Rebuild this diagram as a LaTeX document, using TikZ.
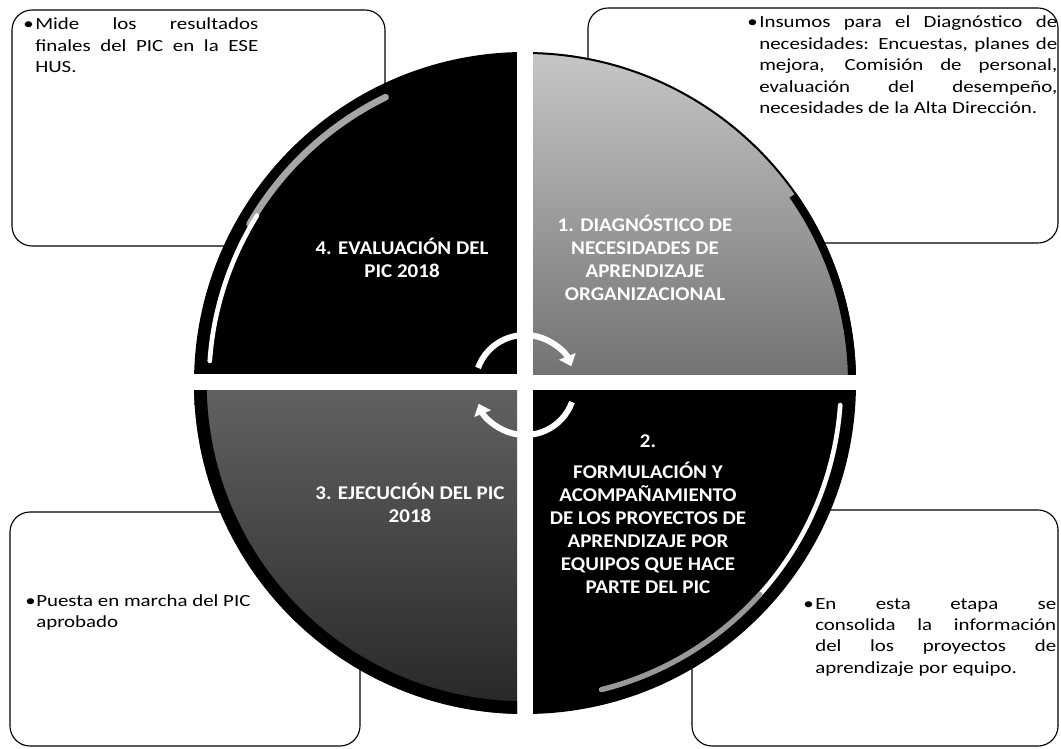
\documentclass[tikz,border=0pt]{standalone}
\usepackage{fontspec}
\setmainfont{Carlito}
\newfontfamily\bodyfont{Carlito}[FakeStretch=1.23]
\newfontfamily\lblfont{Carlito}[FakeStretch=1.08]
\usetikzlibrary{arrows.meta,calc}
\begin{document}
\begin{tikzpicture}[x=0.75pt,y=-0.75pt,
  boxstyle/.style={draw=black, line width=0.85pt, rounded corners=15pt, anchor=north west, inner sep=0pt, outer sep=0pt},
  bodytext/.style={anchor=base west, inner sep=0pt, align=justify, font={\bodyfont\fontsize{12.75pt}{16.1pt}\selectfont}},
  bulletmark/.style={anchor=base west, inner sep=0pt, font={\bodyfont\fontsize{12.75pt}{16.1pt}\selectfont}},
  qlabel/.style={align=center, text=white, inner sep=0pt, font={\lblfont\bfseries\fontsize{14.6pt}{17.25pt}\selectfont}},
  cyclearrow/.style={draw=white, line width=4.5pt, -{Triangle[length=8pt,width=13pt]}},
]
\fill[white] (0,0) rectangle (1061,749);
\useasboundingbox (0,0) rectangle (1061,749);

% boxes
\node[boxstyle, minimum width={373*0.75pt}, minimum height={236*0.75pt}] (tlbox) at (12,10) {};
\node[boxstyle, minimum width={470*0.75pt}, minimum height={235*0.75pt}] (trbox) at (588,8) {};
\node[boxstyle, minimum width={350*0.75pt}, minimum height={234*0.75pt}] (blbox) at (10,512) {};
\node[boxstyle, minimum width={366*0.75pt}, minimum height={236*0.75pt}] (brbox) at (692,510) {};

% circle quadrants
\coordinate (C) at (525,383);
\begin{scope}
  \clip (C) circle [radius=331];
  % Q4 top-left
  \begin{scope}
    \clip (150,30) rectangle (517,374);
    \fill[black] (150,30) rectangle (517,374);
    \draw[black!35, line width=5pt, line cap=round] ($(C)+(-150:318)$) arc[start angle=-150, end angle=-116, radius=318];
    \draw[white, line width=3.5pt, line cap=round] ($(C)+(-176:316)$) arc[start angle=-176, end angle=-148, radius=316];
  \end{scope}
  % Q1 top-right
  \begin{scope}
    \clip (533,30) rectangle (900,374);
    \shade[top color=black!20, bottom color=black!55] (533,30) rectangle (900,374);
    \draw[black, line width=3pt] (C) circle [radius=331];
    \draw[black, line width=12pt] ($(C)+(-35:331)$) arc[start angle=-35, end angle=0, radius=331];
  \end{scope}
  % Q3 bottom-left
  \begin{scope}
    \clip (150,390) rectangle (517,730);
    \shade[top color=black!62, bottom color=black!86] (150,390) rectangle (517,730);
    \draw[black, line width=19pt] (C) circle [radius=331];
  \end{scope}
  % Q2 bottom-right
  \begin{scope}
    \clip (533,390) rectangle (900,730);
    \fill[black] (533,390) rectangle (900,730);
    \draw[white, line width=3.5pt, line cap=round] ($(C)+(4:316)$) arc[start angle=4, end angle=42, radius=316];
    \draw[black!40, line width=4pt, line cap=round] ($(C)+(42:316)$) arc[start angle=42, end angle=76, radius=316];
  \end{scope}
\end{scope}

% central cycle arrows
\coordinate (A) at (525,385);
\draw[cyclearrow] ($(A)+(-160:50)$) arc[start angle=-160, end angle=-22, radius=50];
\draw[cyclearrow] ($(A)+(20:50)$) arc[start angle=20, end angle=158, radius=50];

% quadrant labels
\node[qlabel] (q4lbl) at (402,258) {4. EVALUACIÓN DEL\\PIC 2018};
\node[qlabel] (q1lbl) at (645,258) {1. DIAGNÓSTICO DE\\NECESIDADES DE\\APRENDIZAJE\\ORGANIZACIONAL};
\node[qlabel] (q3lbl) at (410,503) {3. EJECUCIÓN DEL PIC\\2018};
\node[qlabel] (q2lbl) at (648,514) {2.\\[6pt]FORMULACIÓN Y\\ACOMPAÑAMIENTO\\DE LOS PROYECTOS DE\\APRENDIZAJE POR\\EQUIPOS QUE HACE\\PARTE DEL PIC};

% box texts
\node[bulletmark] (tlbul) at (23,30) {•};
\node[bodytext, text width={223*0.75pt}] (tltext) at (35,30)
  {Mide los resultados\linebreak finales del PIC en la ESE\linebreak HUS.};
\node[bulletmark] (trbul) at (747,28) {•};
\node[bodytext, text width={298*0.75pt}] (trtext) at (759,28)
  {Insumos para el Diagnóstico de\linebreak necesidades: Encuestas, planes de\linebreak mejora, Comisión de personal,\linebreak evaluación del desempeño,\linebreak necesidades de la Alta Dirección.};
\node[bulletmark] (blbul) at (25,606) {•};
\node[bodytext, text width={225*0.75pt}] (bltext) at (36,606)
  {Puesta en marcha del PIC\newline aprobado};
\node[bulletmark] (brbul) at (803,609) {•};
\node[bodytext, text width={241*0.75pt}] (brtext) at (815,609)
  {En esta etapa se\linebreak consolida la información\linebreak del los proyectos de\linebreak aprendizaje por equipo.};
\end{tikzpicture}
\end{document}
